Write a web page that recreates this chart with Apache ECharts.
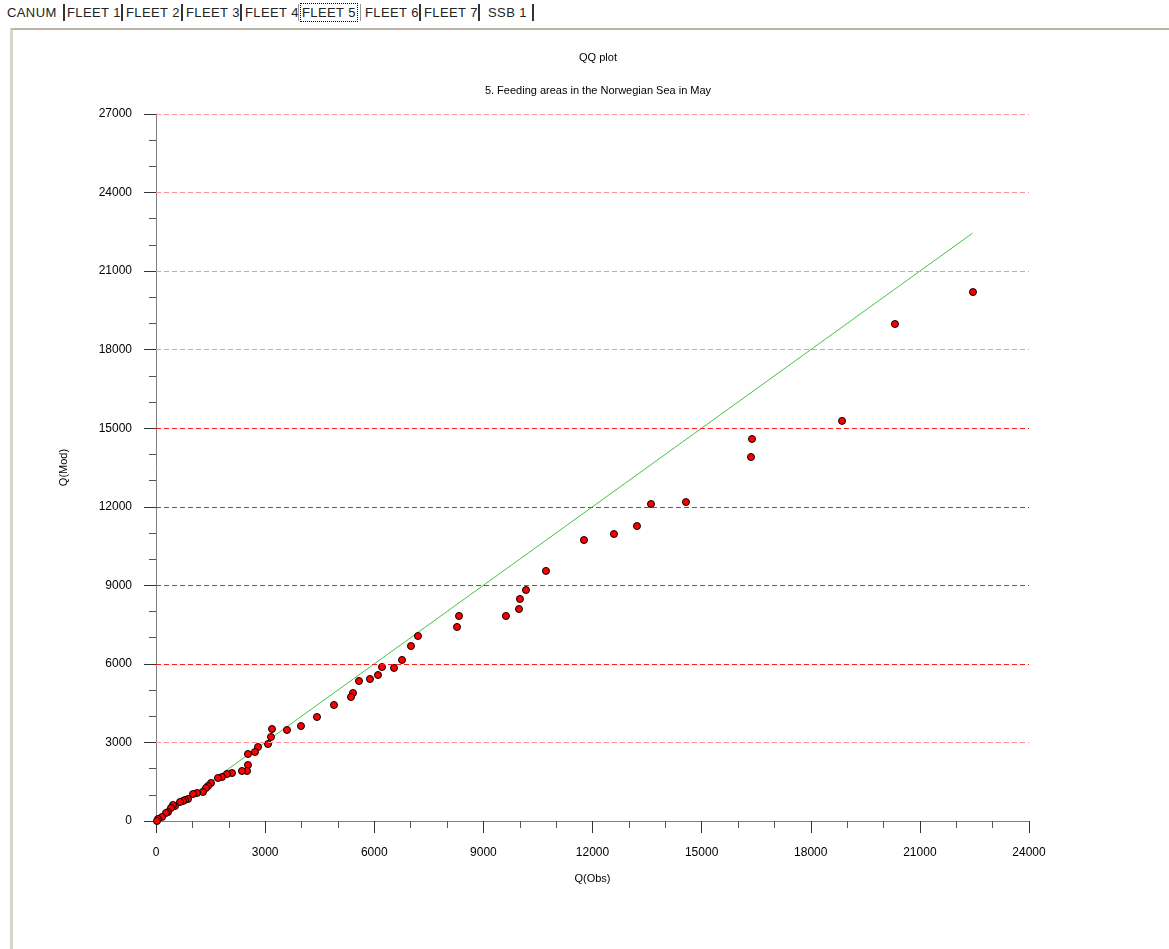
<!DOCTYPE html>
<html>
<head>
<meta charset="utf-8">
<script src="https://cdn.jsdelivr.net/npm/echarts@6/dist/echarts.min.js"></script>
<style>
  html, body { margin: 0; padding: 0; background: #fff; width: 1169px; height: 949px; overflow: hidden; font-family: "Liberation Sans", "DejaVu Sans", sans-serif; }
  #tabs { position: absolute; left: 0; top: 0; height: 24px; width: 1169px; font-size: 13px; color: #222; }
  #tabs span { position: absolute; top: 5px; white-space: nowrap; letter-spacing: 0.4px; }
  #tabs .sep { position: absolute; top: 4px; width: 2px; height: 17px; background: #333; }
  #tabs .active { outline: 1px dotted #000; outline-offset: 1px; }
  #panel { position: absolute; left: 10px; top: 28px; width: 1159px; height: 921px; border-top: 2px solid #b9b6a8; border-left: 3px solid #d8d4c4; box-sizing: border-box; }
  #chart { position: absolute; left: 0; top: 0; width: 1169px; height: 949px; }
</style>
</head>
<body>
<div id="panel"></div>
<div id="tabs"></div>
<div id="chart"></div>
<script>
// ---- tab labels ----
const tabLabels = ["CANUM", "FLEET 1", "FLEET 2", "FLEET 3", "FLEET 4", "FLEET 5", "FLEET 6", "FLEET 7", "SSB 1"];
const activeTab = "FLEET 5";

// ---- titles / axis names ----
const titleText = "QQ plot";
const subtitleText = "5. Feeding areas in the Norwegian Sea in May";
const xAxisName = "Q(Obs)";
const yAxisName = "Q(Mod)";

// ---- axis ranges ----
const xMin = 0, xMax = 24000, xStep = 3000;
const yMin = 0, yMax = 27000, yStep = 3000;

// ---- horizontal grid line values (dashed red) ----
const gridValues = [3000, 6000, 9000, 12000, 15000, 18000, 21000, 24000, 27000];

// ---- data: observed (x) vs modelled (y) quantiles ----
const qObs = [22460, 20315, 18860, 16385, 16357, 14570, 13608, 13223, 12590, 11766,
              10721, 10171, 10006, 9979, 9621, 8330, 8275, 7202, 7010, 6763,
              6543, 6213, 6103, 5883, 5580, 5415, 5360, 4893, 4426, 3986,
              3601, 3189, 3161, 3079, 2804, 2721, 2529, 2529, 2502, 2364,
              2089, 1952, 1814, 1704, 1512, 1430, 1375, 1292, 1127, 1017,
              880, 797, 742, 660, 522, 467, 412, 330, 275, 165, 55, 27];
const qMod = [20200, 18980, 15280, 14590, 13900, 12180, 12105, 11265, 10960, 10730,
              9550, 8820, 8480, 8095, 7830, 7830, 7410, 7065, 6683, 6150,
              5845, 5880, 5575, 5423, 5347, 4888, 4735, 4430, 3972, 3628,
              3475, 3513, 3208, 2940, 2826, 2635, 2559, 2139, 1910, 1910,
              1833, 1795, 1680, 1642, 1451, 1337, 1260, 1108, 1069, 1031,
              840, 802, 764, 726, 573, 611, 496, 344, 306, 153, 76, 0];

// ---- 1:1 reference line ----
const refLineX = [0, 22450];
const refLineY = [0, 22450];

// tabs (HTML)
const tabPos = [7, 67, 126, 186, 245, 302, 365, 424, 488];
const sepPos = [63, 121, 181, 240, 298, 360, 419, 478, 532];
const tabsEl = document.getElementById('tabs');
tabLabels.forEach((t, i) => {
  const s = document.createElement('span');
  s.textContent = t;
  s.style.left = tabPos[i] + 'px';
  if (t === activeTab) s.className = 'active';
  tabsEl.appendChild(s);
});
sepPos.forEach((p, i) => {
  const d = document.createElement('div');
  d.className = 'sep';
  d.style.left = p + 'px';
  if (i === 4 || i === 5) { d.style.background = '#999'; d.style.width = '1px'; }
  tabsEl.appendChild(d);
});

const chart = echarts.init(document.getElementById('chart'), null, { renderer: 'canvas' });
const strongGrid = '#ff1a1a';
const lightGrid = '#ff9090';
const font = '"Liberation Sans", "DejaVu Sans", sans-serif';
const plain = v => String(v);

chart.setOption({
  backgroundColor: 'transparent',
  animation: false,
  title: [
    { text: titleText, left: 593, top: 47, textAlign: 'center', textStyle: { fontSize: 11, fontWeight: 'normal', color: '#000', fontFamily: font } },
    { text: subtitleText, left: 593, top: 80, textAlign: 'center', textStyle: { fontSize: 11, fontWeight: 'normal', color: '#000', fontFamily: font } }
  ],
  grid: { left: 156, right: 140, top: 114, bottom: 128, containLabel: false },
  xAxis: {
    type: 'value', min: xMin, max: xMax, interval: xStep,
    name: xAxisName, nameLocation: 'middle', nameGap: 52,
    nameTextStyle: { fontSize: 11, color: '#000', fontFamily: font },
    axisLine: { show: true, lineStyle: { color: '#808080', width: 1 } },
    axisTick: { show: true, length: 12, lineStyle: { color: '#333' } },
    minorTick: { show: true, splitNumber: 3, length: 7, lineStyle: { color: '#555' } },
    axisLabel: { fontSize: 12, color: '#000', margin: 26, fontFamily: font, formatter: plain },
    splitLine: { show: false }
  },
  yAxis: {
    type: 'value', min: yMin, max: yMax, interval: yStep,
    name: yAxisName, nameLocation: 'middle', nameGap: 87, nameRotate: 90,
    nameTextStyle: { fontSize: 11, color: '#000', fontFamily: font },
    axisLine: { show: true, lineStyle: { color: '#808080', width: 1 } },
    axisTick: { show: true, length: 12, lineStyle: { color: '#333' } },
    minorTick: { show: true, splitNumber: 3, length: 7, lineStyle: { color: '#555' } },
    axisLabel: { fontSize: 12, color: '#000', margin: 24, fontFamily: font, formatter: plain },
    splitLine: { show: false }
  },
  series: [
    {
      type: 'line',
      data: [],
      z: 1,
      silent: true,
      markLine: {
        silent: true,
        symbol: ['none', 'none'],
        label: { show: false },
        animation: false,
        data: gridValues.map(v => ({
          yAxis: v,
          lineStyle: { color: (v >= 6000 && v <= 15000) ? strongGrid : lightGrid, type: [5, 3], width: 1 }
        }))
      }
    },
    {
      type: 'line',
      data: refLineX.map((x, i) => [x, refLineY[i]]),
      symbol: 'none',
      lineStyle: { color: '#44c444', width: 1 },
      z: 2,
      silent: true
    },
    {
      type: 'scatter',
      data: qObs.map((x, i) => [x, qMod[i]]),
      symbol: 'circle',
      symbolSize: 7,
      itemStyle: { color: '#ff0000', borderColor: '#000', borderWidth: 1, opacity: 1 },
      z: 3
    }
  ]
});
</script>
</body>
</html>
